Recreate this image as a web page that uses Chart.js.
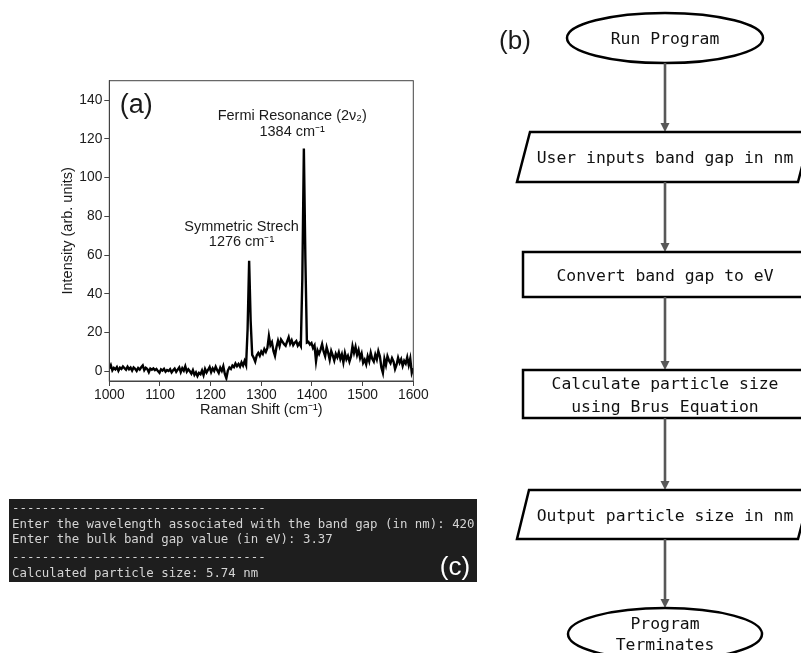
<!DOCTYPE html>
<html>
<head>
<meta charset="utf-8">
<script src="https://cdn.jsdelivr.net/npm/chart.js@4/dist/chart.umd.min.js"></script>
<style>
  html, body { margin: 0; padding: 0; background: #fff; }
  body { width: 801px; height: 653px; position: relative; overflow: hidden; }
  #spectrum { position: absolute; left: 40px; top: 60px; }
  #diagram { position: absolute; left: 0; top: 0; }
</style>
</head>
<body>
<canvas id="spectrum" width="400" height="360"></canvas>
<svg id="diagram" width="801" height="653" xmlns="http://www.w3.org/2000/svg"></svg>
<script>
// Raman spectrum, sampled every 3 cm^-1 from 1000 to 1600
const ramanShift = [];
for (let v = 1000; v <= 1600; v += 3) ramanShift.push(v);

const intensity = [
  1.5, 3.2, 0.5, 1.8, 1.0, 2.2, 0.3, 1.9, 1.2, 2.5,
  1.6, 0.8, 2.4, 1.1, 1.9, 0.4, 2.0, 1.3, 0.2, 1.7,
  0.9, 2.1, 3.0, 0.6, 1.8, 1.2, -0.5, 1.4, 0.8, 1.5,
  0.6, 1.2, 0.1, -0.8, 1.0, 0.4, 1.3, -0.2, 0.7, 0.2,
  1.1, -0.6, 0.5, 1.4, -0.3, 0.9, 2.0, -0.4, 1.6, 0.3,
  2.6, -0.2, 1.0, 0.0, -1.2, 0.6, -1.8, -0.5, -2.4, -0.8,
  -1.5, 0.4, -2.0, 1.2, -0.6, 0.8, 2.2, -0.4, 1.5, 0.2,
  2.4, 0.6, -0.8, 1.8, 0.2, 2.6, -1.4, -3.6, 0.4, 2.0,
  1.2, 3.0, 2.2, 4.0, 2.6, 3.8, 2.4, 4.6, 3.0, 5.4,
  3.2, 22, 57, 26, 8.5, 7.0, 5.0, 8.2, 9.5, 8.0,
  10.2, 9.0, 11.5, 10.0, 12.0, 18.2, 13.5, 15.0, 10.5, 8.0,
  12.5, 15.8, 13.0, 16.4, 15.2, 14.0, 13.2, 15.5, 17.6, 14.2,
  16.0, 13.5, 14.8, 15.6, 13.2, 14.5, 13.0, 48, 115, 58,
  14.8, 15.2, 13.8, 14.6, 12.0, 13.4, 5.2, 10.8, 9.0, 11.2,
  14.0, 10.2, 7.8, 12.4, 9.6, 6.0, 10.5, 8.2, 5.6, 9.0,
  7.2, 9.8, 6.4, 8.8, 4.6, 9.4, 6.2, 8.0, 5.0, 7.6,
  13.0, 9.5, 12.6, 8.4, 11.0, 6.8, 9.2, 4.4, 6.0, 3.6,
  7.8, 5.2, 9.6, 6.4, 5.0, 8.6, 6.2, 10.4, 7.8, 2.0,
  -0.8, 6.4, 3.2, 7.8, 5.6, 4.2, 6.8, 5.0, 1.2, 3.4,
  7.0, 4.4, 6.2, 2.8, 5.4, 4.0, 7.2, 3.2, 6.6, -0.8,
  1.6
];

const xTicks = [1000, 1100, 1200, 1300, 1400, 1500, 1600];
const yTicks = [0, 20, 40, 60, 80, 100, 120, 140];

// Peak annotations: [x, y, text]
const peakLabels = [
  [1361, 132, 'Fermi Resonance (2\u03BD\u2082)'],
  [1361, 123.5, '1384 cm\u207B\u00B9'],
  [1261, 74.6, 'Symmetric Strech'],
  [1261, 66.9, '1276 cm\u207B\u00B9']
];

const FONT = '"Liberation Sans", Arial, sans-serif';
const INK = '#1a1a1a';

const framePlugin = {
  id: 'frame',
  afterDraw(chart) {
    const { ctx, chartArea: a, scales } = chart;
    ctx.save();
    ctx.strokeStyle = '#444';
    ctx.lineWidth = 1;
    ctx.strokeRect(a.left, a.top, a.right - a.left, a.bottom - a.top);

    ctx.fillStyle = INK;
    ctx.textAlign = 'center';
    ctx.textBaseline = 'middle';
    ctx.font = '14.5px ' + FONT;
    peakLabels.forEach(([x, y, t]) => {
      ctx.fillText(t, scales.x.getPixelForValue(x), scales.y.getPixelForValue(y));
    });
    ctx.font = '27px ' + FONT;
    ctx.textAlign = 'left';
    ctx.fillText('(a)', a.left + 10.5, scales.y.getPixelForValue(137));
    ctx.restore();
  }
};

new Chart(document.getElementById('spectrum'), {
  type: 'line',
  data: {
    datasets: [{
      data: ramanShift.map((x, i) => ({ x, y: intensity[i] })),
      borderColor: '#000',
      borderWidth: 2.4,
      pointRadius: 0,
      tension: 0
    }]
  },
  options: {
    responsive: false,
    animation: false,
    plugins: { legend: { display: false }, tooltip: { enabled: false } },
    layout: { padding: { top: 20.7, right: 26.7, left: 0, bottom: 0 } },
    scales: {
      x: {
        type: 'linear', min: 1000, max: 1600,
        afterBuildTicks: s => { s.ticks = xTicks.map(v => ({ value: v })); },
        afterFit: s => { s.height = 39; },
        ticks: { color: INK, font: { family: FONT, size: 13.8 }, padding: 1, maxRotation: 0,
                 callback: v => String(v) },
        grid: { display: true, drawOnChartArea: false, drawTicks: true, tickLength: 5, color: '#444' },
        border: { display: true, color: '#444', width: 1 },
        title: { display: true, text: 'Raman Shift (cm\u207B\u00B9)', color: INK,
                 font: { family: FONT, size: 14.5 }, padding: { top: 0, bottom: 1.5 } }
      },
      y: {
        type: 'linear', min: -5, max: 150,
        afterBuildTicks: s => { s.ticks = yTicks.map(v => ({ value: v })); },
        afterFit: s => { s.width = 69.3; },
        ticks: { color: INK, font: { family: FONT, size: 13.8 }, padding: 2,
                 callback: v => String(v) },
        grid: { display: true, drawOnChartArea: false, drawTicks: true, tickLength: 5, color: '#444' },
        border: { display: true, color: '#444', width: 1 },
        title: { display: true, text: 'Intensity (arb. units)', color: INK,
                 font: { family: FONT, size: 14.5 }, padding: { top: 19.5, bottom: 0 } }
      }
    }
  },
  plugins: [framePlugin]
});

// Flowchart (b) and console output (c)
const NS = 'http://www.w3.org/2000/svg';
const svg = document.getElementById('diagram');
function el(tag, attrs, text) {
  const e = document.createElementNS(NS, tag);
  for (const k in attrs) e.setAttribute(k, attrs[k]);
  if (text !== undefined) e.textContent = text;
  svg.appendChild(e);
  return e;
}
const MONO = '"DejaVu Sans Mono", "Liberation Mono", monospace';
const CX = 665;

function arrow(y1, y2) {
  el('line', { x1: CX, y1: y1, x2: CX, y2: y2 - 8, stroke: '#585858', 'stroke-width': 2.6 });
  el('polygon', { points: `${CX - 4.5},${y2 - 9} ${CX + 4.5},${y2 - 9} ${CX},${y2}`, fill: '#585858' });
}
function label(y, t, size) {
  el('text', { x: CX, y: y, 'text-anchor': 'middle', 'dominant-baseline': 'central',
               'font-family': MONO, 'font-size': size || 16.4, fill: '#111' }, t);
}
const box = { fill: '#fff', stroke: '#000', 'stroke-width': 2.5 };

el('text', { x: 515, y: 40, 'text-anchor': 'middle', 'dominant-baseline': 'central',
             'font-family': FONT, 'font-size': 26, fill: INK }, '(b)');

el('ellipse', Object.assign({ cx: CX, cy: 38, rx: 98, ry: 25 }, box));
label(38, 'Run Program');
arrow(63, 132);

el('polygon', Object.assign({ points: '530,132 811,132 798,182 517,182' }, box));
label(157, 'User inputs band gap in nm');
arrow(182, 252);

el('rect', Object.assign({ x: 523, y: 252, width: 290, height: 45 }, box));
label(275, 'Convert band gap to eV');
arrow(297, 370);

el('rect', Object.assign({ x: 523, y: 370, width: 290, height: 48 }, box));
label(383, 'Calculate particle size');
label(406, 'using Brus Equation');
arrow(418, 490);

el('polygon', Object.assign({ points: '529,490 811,490 798,539 517,539' }, box));
label(515, 'Output particle size in nm');
arrow(539, 608);

el('ellipse', Object.assign({ cx: CX, cy: 634, rx: 97, ry: 26 }, box));
label(623, 'Program');
label(644, 'Terminates');

// console panel (c)
el('rect', { x: 9, y: 499, width: 468, height: 83, fill: '#1e1e1e' });
const consoleLines = [
  [507, '----------------------------------'],
  [523, 'Enter the wavelength associated with the band gap (in nm): 420'],
  [538, 'Enter the bulk band gap value (in eV): 3.37'],
  [556, '----------------------------------'],
  [572, 'Calculated particle size: 5.74 nm']
];
consoleLines.forEach(([y, t]) => {
  el('text', { x: 12, y: y, 'dominant-baseline': 'central', 'font-family': MONO,
               'font-size': 12.4, fill: '#d4d4d4' }, t);
});
el('text', { x: 455, y: 566, 'text-anchor': 'middle', 'dominant-baseline': 'central',
             'font-family': FONT, 'font-size': 26, fill: '#fff' }, '(c)');
</script>
</body>
</html>
